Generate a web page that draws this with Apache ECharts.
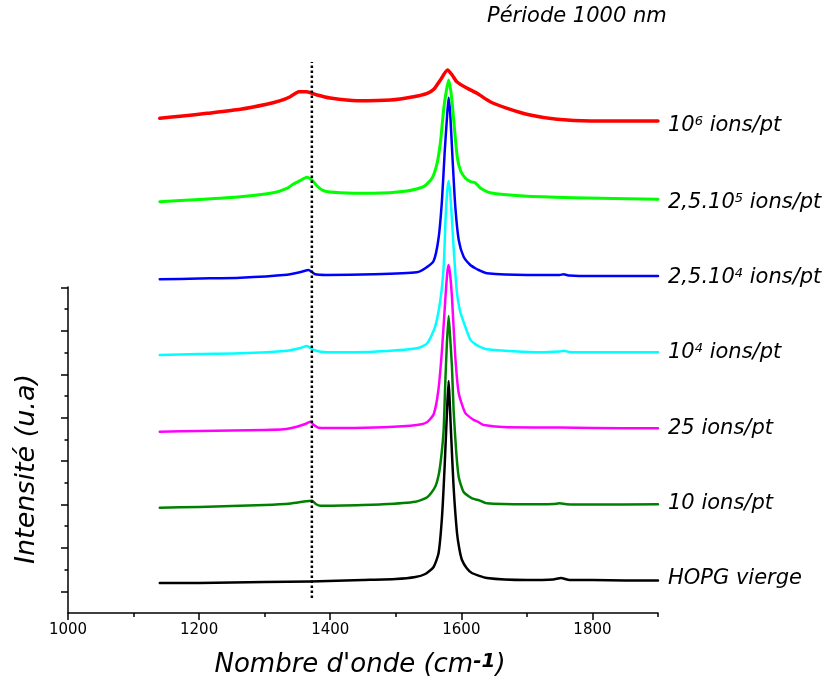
<!DOCTYPE html>
<html>
<head>
<meta charset="utf-8">
<script src="https://cdn.jsdelivr.net/npm/echarts@6/dist/echarts.min.js"></script>
<style>html,body{margin:0;padding:0;background:#fff}#c{width:830px;height:686px}</style>
</head>
<body>
<div id="c"></div>
<script>
// Raman spectra, Période 1000 nm — wavenumber (cm-1) vs intensity (arbitrary, stacked)
const xTicksMajor = [1000, 1200, 1400, 1600, 1800];
const xTicksMinor = [1100, 1300, 1500, 1700, 1900];
const yTicksMajor = [21.7, 65.1, 108.5, 151.9, 195.3, 238.7, 282.1, 325.5];
const yTicksMinor = [43.4, 86.8, 130.2, 173.6, 217, 260.4, 303.8];

const seriesNames = ['10^6 ions/pt', '2,5.10^5 ions/pt', '2,5.10^4 ions/pt', '10^4 ions/pt', '25 ions/pt', '10 ions/pt', 'HOPG vierge'];

const red1e6 = [[1140,494.7],[1175,497],[1212,499.7],[1263,503.7],[1303,508.7],[1324,512.3],[1339,516.3],[1352,521.3],[1364,521.3],[1380,518],[1400,515],[1441,512.3],[1492,513],[1527,516.3],[1548,519.7],[1558,523.7],[1568,533],[1579,543],[1586,538],[1593,531.3],[1609,524.7],[1624,519.7],[1644,511.3],[1670,504.7],[1705,498],[1746,493.7],[1797,492],[1850,492],[1900,492]];

const green25e5 = [[1140,411.3],[1200,413.5],[1263,416.3],[1313,420.3],[1334,424.7],[1344,429],[1354,432.3],[1364.4,435.7],[1372,433],[1380,427],[1390,422.3],[1415,420.3],[1466,419.7],[1517,422],[1542.5,426.3],[1555.3,434.7],[1563,449.7],[1568,470],[1571,490],[1573.5,506],[1576.6,520],[1580.6,533],[1584,522],[1586,510],[1589.3,486],[1594,455],[1599,442],[1606,435],[1614,431.3],[1621,430.3],[1629,425],[1644,420.3],[1695,417],[1771,415.3],[1900,413.7]];

const blue25e4 = [[1140,333.7],[1200,334.5],[1263,335.3],[1334,338.3],[1355,341],[1367,343],[1377,338.7],[1395,338],[1466,338.7],[1532,340.7],[1545,344.7],[1557.7,352],[1565.3,375],[1570.5,413],[1574.5,459.7],[1578.2,496.3],[1580.6,515.3],[1583,499.7],[1586.7,453],[1590.8,406.3],[1596,373],[1603.5,356.3],[1613.7,348],[1621.4,344.7],[1626.4,343],[1639,339.7],[1700,338],[1750,338],[1756,338.7],[1765,337.5],[1800,337],[1900,337]];

const cyan1e4 = [[1140,258],[1200,259],[1263,259.7],[1334,262.3],[1355,265],[1364.4,267],[1374.5,263],[1395,260.7],[1466,261.3],[1532,264.7],[1548,269.7],[1560,286.3],[1568,313],[1573,346],[1576,395],[1578.5,422],[1580.6,432],[1583,420],[1585.5,395],[1588.2,366],[1593,322],[1598,302],[1606,286.3],[1614,273],[1621,269],[1626,267],[1639,263.7],[1720,260.7],[1750,261.5],[1756,262.3],[1765,261],[1800,260.7],[1900,260.7]];

const magenta25 = [[1140,181.3],[1200,182],[1300,183],[1329,183.7],[1349,186.3],[1362,189],[1369.5,191.3],[1375,188],[1382,185.3],[1420,185],[1481,185.7],[1532,188],[1548,191],[1558,199],[1565,223],[1570.5,263],[1575.5,313],[1578.5,340],[1580.6,348],[1583,338],[1585.7,316],[1590.8,256],[1596,220],[1606,200],[1619,193],[1625,191.3],[1634,188],[1670,185.7],[1750,185.5],[1800,185],[1900,184.7]];

const dkgreen10 = [[1140,105.3],[1200,106],[1300,108],[1340,109.5],[1360,111.5],[1372,112.3],[1378,109],[1385,107.3],[1420,107.5],[1480,108.7],[1530,111.3],[1548,115.7],[1560,126],[1566,140],[1570,160],[1573,183],[1575.5,230],[1578,270],[1580.6,297],[1583,275],[1585.7,246],[1588.2,203],[1592,163],[1596,136],[1603.5,121],[1616,114.7],[1622,113.5],[1626,113],[1639,109.7],[1700,108.7],[1740,109],[1750,109.7],[1760,108.8],[1800,108.5],[1900,108.7]];

const hopg = [[1140,30],[1200,30],[1300,31],[1370,31.5],[1450,33],[1500,34],[1530,36],[1545,39],[1557.7,46],[1565.3,60],[1570.5,96],[1574.5,146],[1578.2,203],[1580.6,232],[1582.2,212],[1584.3,180],[1588.2,126],[1593.4,80],[1597,64],[1601,53],[1608,45],[1616,40],[1639,35],[1700,33],[1740,33.5],[1752,35],[1765,33],[1800,33],[1850,32.5],[1900,32.5]];

const refLine = [[1372,15],[1372,551]];

const font = 'DejaVu Sans';
const labelRich = {
  t: {fontFamily: font, fontStyle: 'italic', fontSize: 21, color: '#000'},
  s: {fontFamily: font, fontStyle: 'italic', fontSize: 13, color: '#000', verticalAlign: 'top'}
};
const labelTexts = [
  '{t|10}{s|6}{t| ions/pt}',
  '{t|2,5.10}{s|5}{t| ions/pt}',
  '{t|2,5.10}{s|4}{t| ions/pt}',
  '{t|10}{s|4}{t| ions/pt}',
  '{t|25 ions/pt}',
  '{t|10 ions/pt}',
  '{t|HOPG vierge}'
];
const colors = ['#ff0000', '#00ff00', '#0000ff', '#00ffff', '#ff00ff', '#008000', '#000000'];
const widths = [3.5, 3, 2.5, 2.5, 2.5, 2.5, 2.5];
const offsets = [[0,5],[0,3],[0,2],[0,0],[0,0],[0,-1],[0,-2]];
const datasets = [red1e6, green25e5, blue25e4, cyan1e4, magenta25, dkgreen10, hopg];

const series = datasets.map((d, i) => ({
  name: seriesNames[i],
  type: 'line',
  xAxisIndex: 0, yAxisIndex: 0,
  data: d,
  showSymbol: false, symbol: 'none',
  smooth: 0.2,
  lineStyle: {color: colors[i], width: widths[i], join: 'round', cap: 'round'},
  itemStyle: {color: colors[i]},
  z: 10 - i,
  endLabel: {show: true, distance: 10, offset: offsets[i], formatter: () => labelTexts[i], rich: labelRich}
}));
series.push({
  name: 'ref', type: 'line', xAxisIndex: 0, yAxisIndex: 0, data: refLine,
  symbol: 'none', lineStyle: {color: '#000', width: 2.5, type: [2.5, 2.5]}, z: 20
});

const chart = echarts.init(document.getElementById('c'), null, {renderer: 'canvas'});
chart.setOption({
  animation: false,
  backgroundColor: '#fff',
  grid: [
    {left: 68, right: 172, top: 0, bottom: 73},
    {left: 68, right: 172, top: 287, bottom: 73}
  ],
  xAxis: [
    {gridIndex: 0, type: 'value', min: 1000, max: 1900, show: false},
    {gridIndex: 1, type: 'value', min: 1000, max: 1900,
      axisLine: {show: true, lineStyle: {color: '#000', width: 1.5}},
      axisTick: {show: true, customValues: xTicksMajor, length: 7, lineStyle: {color: '#000', width: 1.5}},
      axisLabel: {show: true, customValues: xTicksMajor, color: '#000', fontFamily: font, fontSize: 15, margin: 10, formatter: v => String(v)},
      splitLine: {show: false}},
    {gridIndex: 1, type: 'value', min: 1000, max: 1900,
      axisLine: {show: false},
      axisTick: {show: true, customValues: xTicksMinor, length: 4, lineStyle: {color: '#000', width: 1.5}},
      axisLabel: {show: false}, splitLine: {show: false}, position: 'bottom'}
  ],
  yAxis: [
    {gridIndex: 0, type: 'value', min: 0, max: 613, show: false},
    {gridIndex: 1, type: 'value', min: 0, max: 326, position: 'left',
      axisLine: {show: true, lineStyle: {color: '#000', width: 1.5}},
      axisTick: {show: true, customValues: yTicksMajor, length: 7, lineStyle: {color: '#000', width: 1.5}},
      axisLabel: {show: false}, splitLine: {show: false}},
    {gridIndex: 1, type: 'value', min: 0, max: 326, position: 'left', offset: 0,
      axisLine: {show: false},
      axisTick: {show: true, customValues: yTicksMinor, length: 3.5, lineStyle: {color: '#000', width: 1.5}},
      axisLabel: {show: false}, splitLine: {show: false}}
  ],
  graphic: [
    {type: 'text', left: 487, top: 6, style: {text: 'Période 1000 nm', fontFamily: font, fontStyle: 'italic', fontSize: 21, fill: '#000'}},
    {type: 'text', x: 360, y: 665, style: {
      text: '{a|Nombre d\'onde (cm}{s|-1}{a|)}', align: 'center', verticalAlign: 'middle',
      rich: {a: {fontFamily: font, fontStyle: 'italic', fontSize: 26, fill: '#000', color: '#000'},
             s: {fontFamily: font, fontStyle: 'italic', fontSize: 20, fill: '#000', color: '#000', verticalAlign: 'top', fontWeight: 'bold'}}}},
    {type: 'text', x: 27, y: 469, rotation: Math.PI / 2, style: {
      text: 'Intensité (u.a)', align: 'center', verticalAlign: 'middle',
      fontFamily: font, fontStyle: 'italic', fontSize: 27, fill: '#000'}}
  ],
  series: series
});
</script>
</body>
</html>
